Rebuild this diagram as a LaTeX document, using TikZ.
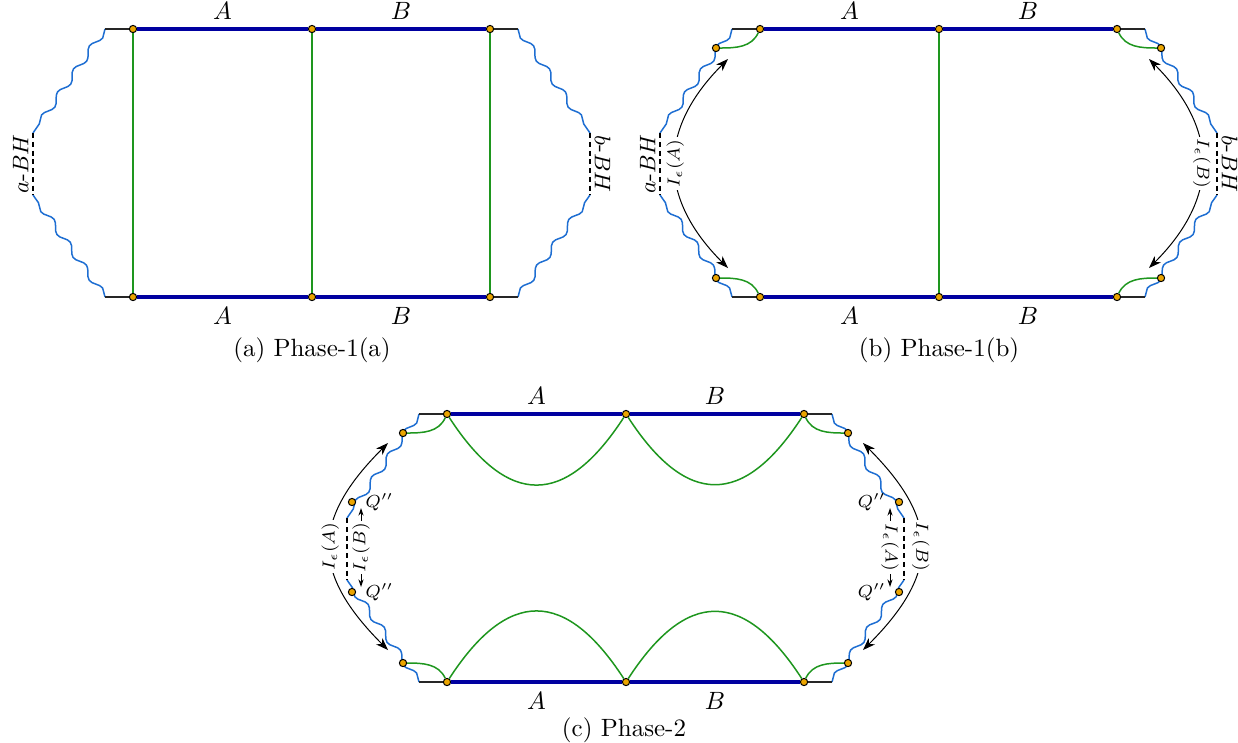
\documentclass[tikz,border=0pt]{standalone}
\usepackage{amsmath,amssymb}
\usepackage{xcolor}
\usepackage{tikz}
\usetikzlibrary{arrows.meta, positioning, decorations.pathmorphing}
\definecolor{HorizonBlue}{RGB}{0,0,160}
\definecolor{WaveBlue}{RGB}{30,110,210}
\definecolor{IslandGreen}{RGB}{30,150,30}
\definecolor{DotAmber}{RGB}{235,165,0}
\tikzset{
  dot/.style={circle, draw=black, fill=DotAmber, line width=0.4pt,
    inner sep=0pt, minimum size=2.9pt},
  bath/.style={draw=black!85, line width=0.5pt},
  bdry/.style={draw=HorizonBlue, line width=1.3pt},
  rtsurf/.style={draw=IslandGreen, line width=0.6pt},
  wave/.style={draw=WaveBlue, line width=0.6pt, decorate,
    decoration={snake, amplitude=1.3pt, segment length=11.2pt}},
  wavem/.style={wave, decoration={amplitude=-1.3pt}},
  horizon/.style={draw=black, line width=0.8pt, dash pattern=on 2pt off 1.5pt},
  larr/.style={{Stealth[length=5pt,width=3.6pt]}-{Stealth[length=5pt,width=3.6pt]},
    draw=black, line width=0.4pt},
  sarr/.style={{Stealth[length=3pt,width=2pt]}-{Stealth[length=3pt,width=2pt]},
    draw=black, line width=0.4pt},
  ilbl/.style={font=\scriptsize, fill=white, inner sep=0.8pt},
  qlbl/.style={font=\scriptsize, inner sep=1pt},
  bhlbl/.style={font=\small, inner sep=1.5pt, anchor=south},
  subcap/.style={font=\normalsize}
}

\begin{document}
\begin{tikzpicture}[x=0.4pt, y=0.4pt]
  \useasboundingbox (0,0) rectangle (1238,-742);

  % ── Phase-1(a) ──
  \begin{scope}[shift={(105,-29)}]
    \coordinate (aTL) at (0,0);       \coordinate (aTR) at (413,0);
    \coordinate (aBL) at (0,-268);    \coordinate (aBR) at (413,-268);
    \coordinate (aHL1) at (-72,-104); \coordinate (aHL2) at (-72,-166);
    \coordinate (aHR1) at (485,-104); \coordinate (aHR2) at (485,-166);

    \draw[wave]  (aTL) -- (aHL1);  \draw[wavem] (aBL) -- (aHL2);
    \draw[wavem] (aTR) -- (aHR1);  \draw[wave]  (aBR) -- (aHR2);
    \draw[horizon] (aHL1) -- node[bhlbl, rotate=90] {$a$-$BH$} (aHL2);
    \draw[horizon] (aHR1) -- node[bhlbl, rotate=-90] {$b$-$BH$} (aHR2);

    \node[dot] (aT1) at (28,0) {};    \node[dot] (aT2) at (207,0) {};    \node[dot] (aT3) at (385,0) {};
    \node[dot] (aB1) at (28,-268) {}; \node[dot] (aB2) at (207,-268) {}; \node[dot] (aB3) at (385,-268) {};

    \draw[bath] (aTL) -- (aT1);  \draw[bath] (aT3) -- (aTR);
    \draw[bath] (aBL) -- (aB1);  \draw[bath] (aB3) -- (aBR);
    \draw[bdry] (aT1) -- node[above] {$A$} (aT2) -- node[above] {$B$} (aT3);
    \draw[bdry] (aB1) -- node[below] {$A$} (aB2) -- node[below] {$B$} (aB3);
    \draw[rtsurf] (aT1) -- (aB1);  \draw[rtsurf] (aT2) -- (aB2);  \draw[rtsurf] (aT3) -- (aB3);

    \node[subcap] (capa) at (207,-321) {(a) Phase-1(a)};
  \end{scope}

  % ── Phase-1(b) ──
  \begin{scope}[shift={(732,-29)}]
    \coordinate (bTL) at (0,0);       \coordinate (bTR) at (413,0);
    \coordinate (bBL) at (0,-268);    \coordinate (bBR) at (413,-268);
    \coordinate (bHL1) at (-72,-104); \coordinate (bHL2) at (-72,-166);
    \coordinate (bHR1) at (485,-104); \coordinate (bHR2) at (485,-166);

    \draw[wave]  (bTL) -- (bHL1);  \draw[wavem] (bBL) -- (bHL2);
    \draw[wavem] (bTR) -- (bHR1);  \draw[wave]  (bBR) -- (bHR2);
    \draw[horizon] (bHL1) -- node[bhlbl, rotate=90] {$a$-$BH$} (bHL2);
    \draw[horizon] (bHR1) -- node[bhlbl, rotate=-90] {$b$-$BH$} (bHR2);

    \node[dot] (bT1) at (28,0) {};    \node[dot] (bT2) at (207,0) {};    \node[dot] (bT3) at (385,0) {};
    \node[dot] (bB1) at (28,-268) {}; \node[dot] (bB2) at (207,-268) {}; \node[dot] (bB3) at (385,-268) {};
    \node[dot] (bCTL) at (-16,-19) {};  \node[dot] (bCBL) at (-16,-249) {};
    \node[dot] (bCTR) at (429,-19) {};  \node[dot] (bCBR) at (429,-249) {};

    \draw[bath] (bTL) -- (bT1);  \draw[bath] (bT3) -- (bTR);
    \draw[bath] (bBL) -- (bB1);  \draw[bath] (bB3) -- (bBR);
    \draw[bdry] (bT1) -- node[above] {$A$} (bT2) -- node[above] {$B$} (bT3);
    \draw[bdry] (bB1) -- node[below] {$A$} (bB2) -- node[below] {$B$} (bB3);
    \draw[rtsurf] (bT2) -- (bB2);
    \draw[rtsurf] (bCTL) to[out=0, in=-115] (bT1);
    \draw[rtsurf] (bCBL) to[out=0, in=115] (bB1);
    \draw[rtsurf] (bCTR) to[out=180, in=-65] (bT3);
    \draw[rtsurf] (bCBR) to[out=180, in=65] (bB3);

    % entanglement islands
    \coordinate (bAL1) at (-4,-239); \coordinate (bAL2) at (-4,-30);
    \coordinate (bAR1) at (417,-30); \coordinate (bAR2) at (417,-239);
    \draw[larr] (bAL1) to[out=135, in=225, looseness=1.22]
      node[ilbl, rotate=90] {$I_\epsilon(A)$} (bAL2);
    \draw[larr] (bAR1) to[out=-45, in=45, looseness=1.22]
      node[ilbl, rotate=-90] {$I_\epsilon(B)$} (bAR2);

    \node[subcap] (capb) at (207,-321) {(b) Phase-1(b)};
  \end{scope}

  % ── Phase-2 ──
  \begin{scope}[shift={(419,-414)}]
    \coordinate (cTL) at (0,0);       \coordinate (cTR) at (413,0);
    \coordinate (cBL) at (0,-268);    \coordinate (cBR) at (413,-268);
    \coordinate (cHL1) at (-72,-104); \coordinate (cHL2) at (-72,-166);
    \coordinate (cHR1) at (485,-104); \coordinate (cHR2) at (485,-166);

    \draw[wave]  (cTL) -- (cHL1);  \draw[wavem] (cBL) -- (cHL2);
    \draw[wavem] (cTR) -- (cHR1);  \draw[wave]  (cBR) -- (cHR2);
    \draw[horizon] (cHL1) -- (cHL2);
    \draw[horizon] (cHR1) -- (cHR2);

    \node[dot] (cT1) at (28,0) {};    \node[dot] (cT2) at (207,0) {};    \node[dot] (cT3) at (385,0) {};
    \node[dot] (cB1) at (28,-268) {}; \node[dot] (cB2) at (207,-268) {}; \node[dot] (cB3) at (385,-268) {};
    \node[dot] (cCTL) at (-16,-19) {};  \node[dot] (cCBL) at (-16,-249) {};
    \node[dot] (cCTR) at (429,-19) {};  \node[dot] (cCBR) at (429,-249) {};
    \node[dot] (cQL1) at (-67,-88) {};  \node[dot] (cQL2) at (-67,-178) {};
    \node[dot] (cQR1) at (480,-88) {};  \node[dot] (cQR2) at (480,-178) {};

    \node[qlbl, right=2.5pt of cQL1] (qL1) {$Q''$};
    \node[qlbl, right=2.5pt of cQL2] (qL2) {$Q''$};
    \node[qlbl, left=2.5pt of cQR1] (qR1) {$Q''$};
    \node[qlbl, left=2.5pt of cQR2] (qR2) {$Q''$};

    \draw[bath] (cTL) -- (cT1);  \draw[bath] (cT3) -- (cTR);
    \draw[bath] (cBL) -- (cB1);  \draw[bath] (cB3) -- (cBR);
    \draw[bdry] (cT1) -- node[above] {$A$} (cT2) -- node[above] {$B$} (cT3);
    \draw[bdry] (cB1) -- node[below] {$A$} (cB2) -- node[below] {$B$} (cB3);
    \draw[rtsurf] (cT1) to[out=-57, in=-123, looseness=1.58] (cT2)
                        to[out=-57, in=-123, looseness=1.58] (cT3);
    \draw[rtsurf] (cB1) to[out=57, in=123, looseness=1.58] (cB2)
                        to[out=57, in=123, looseness=1.58] (cB3);
    \draw[rtsurf] (cCTL) to[out=0, in=-115] (cT1);
    \draw[rtsurf] (cCBL) to[out=0, in=115] (cB1);
    \draw[rtsurf] (cCTR) to[out=180, in=-65] (cT3);
    \draw[rtsurf] (cCBR) to[out=180, in=65] (cB3);

    % entanglement islands
    \coordinate (cAL1) at (-31,-236); \coordinate (cAL2) at (-31,-29);
    \coordinate (cAR1) at (444,-29);  \coordinate (cAR2) at (444,-236);
    \draw[larr] (cAL1) to[out=135, in=225, looseness=1.35]
      node[ilbl, rotate=90] {$I_\epsilon(A)$} (cAL2);
    \draw[larr] (cAR1) to[out=-45, in=45, looseness=1.35]
      node[ilbl, rotate=-90] {$I_\epsilon(B)$} (cAR2);
    \coordinate (cIL1) at (-58,-173); \coordinate (cIL2) at (-58,-94);
    \coordinate (cIR1) at (471,-94);  \coordinate (cIR2) at (471,-173);
    \draw[sarr] (cIL1) -- node[ilbl, rotate=90] {$I_\epsilon(B)$} (cIL2);
    \draw[sarr] (cIR1) -- node[ilbl, rotate=-90] {$I_\epsilon(A)$} (cIR2);

    \node[subcap] (capc) at (205,-316) {(c) Phase-2};
  \end{scope}
\end{tikzpicture}
\end{document}
